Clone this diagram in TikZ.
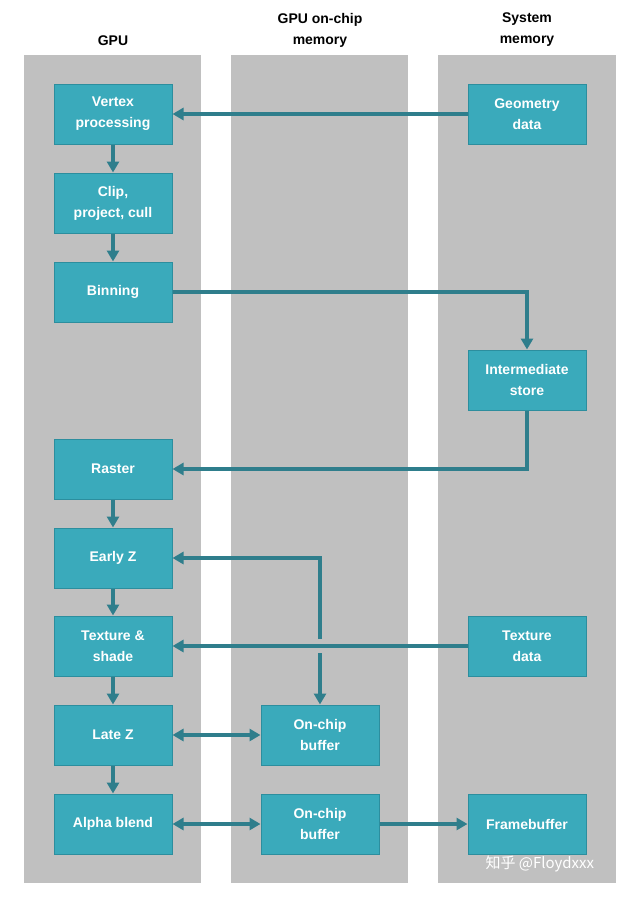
\documentclass[tikz,border=0pt]{standalone}
\usepackage{fontspec}
\setmainfont{Liberation Sans}
\newfontfamily\cjk{Noto Sans CJK SC}
\usetikzlibrary{arrows.meta}
\definecolor{boxc}{HTML}{3AAABB}
\definecolor{boxb}{HTML}{2C8E9E}
\definecolor{arr}{HTML}{2F7E8C}
\definecolor{lane}{HTML}{C0C0C0}
\begin{document}
\begin{tikzpicture}[x=1pt,y=-1pt,
  box/.style={draw=boxb,fill=boxc,line width=1pt,minimum width=118pt,minimum height=60pt,inner sep=0pt,align=center,text=white,font=\bfseries\fontsize{14}{21}\selectfont},
  hd/.style={align=center,font=\bfseries\fontsize{14}{21}\selectfont},
  ar/.style={draw=arr,line width=3.2pt,-{Triangle[length=11pt,width=12pt]}},
  dar/.style={ar,{Triangle[length=11pt,width=12pt]}-{Triangle[length=11pt,width=12pt]}}]
\useasboundingbox (0,0) rectangle (642,897);
\fill[white] (0,0) rectangle (642,897);
\fill[lane] (24,55) rectangle (201,883);
\fill[lane] (231,55) rectangle (408,883);
\fill[lane] (438,55) rectangle (616,883);
\node[hd] (h1) at (113,41) {GPU};
\node[hd] (h2) at (320,30) {GPU on-chip\\memory};
\node[hd] (h3) at (527,30) {System\\memory};
\node[box] (vp) at (113,114) {Vertex\\processing};
\node[box] (cp) at (113,203) {Clip,\\project, cull};
\node[box] (bi) at (113,292) {Binning};
\node[box] (ra) at (113,469) {Raster};
\node[box] (ez) at (113,558) {Early Z};
\node[box] (ts) at (113,646) {Texture \&\\shade};
\node[box] (lz) at (113,735) {Late Z};
\node[box] (ab) at (113,824) {Alpha blend};
\node[box] (b1) at (320,735) {On-chip\\buffer};
\node[box] (b2) at (320,824) {On-chip\\buffer};
\node[box] (gd) at (527,114) {Geometry\\data};
\node[box] (is) at (527,380) {Intermediate\\store};
\node[box] (td) at (527,646) {Texture\\data};
\node[box] (fb) at (527,824) {Framebuffer};
\coordinate (c1) at (527,292);
\coordinate (c2) at (527,469);
\coordinate (c3) at (320,558);
\coordinate (g1) at (320,639);
\coordinate (g2) at (320,653);
\draw[ar] (gd) -- (vp);
\draw[ar] (vp) -- (cp);
\draw[ar] (cp) -- (bi);
\draw[ar] (bi) -- (c1) -- (is);
\draw[ar] (is) -- (c2) -- (ra);
\draw[ar] (ra) -- (ez);
\draw[ar] (ez) -- (ts);
\draw[ar] (ts) -- (lz);
\draw[ar] (lz) -- (ab);
\draw[ar] (g1) -- (c3) -- (ez);
\draw[ar] (g2) -- (b1);
\draw[ar] (td) -- (ts);
\draw[dar] (lz) -- (b1);
\draw[dar] (ab) -- (b2);
\draw[ar] (b2) -- (fb);
\node[text=white,font=\cjk\fontsize{15}{17}\selectfont,anchor=west] (wm) at (482,864) {知乎 @Floydxxx};
\end{tikzpicture}
\end{document}
